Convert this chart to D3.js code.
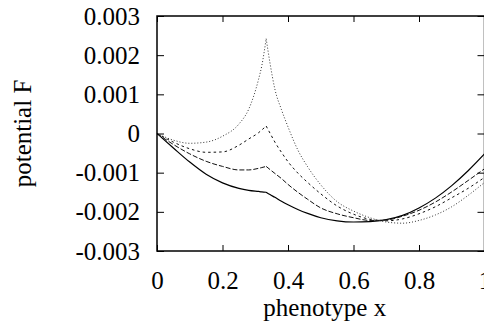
<!DOCTYPE html>
<html>
<head>
<meta charset="utf-8">
<script src="https://cdn.jsdelivr.net/npm/d3@7"></script>
<style>
  body { margin: 0; background: #fff; }
  svg { display: block; }
  svg text { font-family: "Liberation Serif", serif; font-size: 25px; fill: #000; }
</style>
</head>
<body>
<svg id="chart" width="484" height="323"></svg>
<script>
// x grid left of the kink (x = 1/3) and right of it
var xLeft  = [0, 0.05, 0.1, 0.15, 0.2, 0.25, 0.28, 0.31, 0.32, 1/3];
var xRight = [1/3, 0.345, 0.36, 0.38, 0.4, 0.43, 0.46, 0.5, 0.55, 0.6, 0.65, 0.7, 0.75, 0.8, 0.85, 0.9, 0.95, 1];

// potential values (units of 0.001)
var solidLeft  = [0, -0.37, -0.73, -1.04, -1.26, -1.40, -1.45, -1.48, -1.49, -1.50];
var solidRight = [-1.50, -1.56, -1.63, -1.73, -1.82, -1.94, -2.04, -2.15, -2.23, -2.26, -2.25, -2.20, -2.09, -1.90, -1.65, -1.33, -0.95, -0.52];

var longLeft  = [0, -0.28, -0.52, -0.71, -0.84, -0.93, -0.93, -0.89, -0.87, -0.84];
var longRight = [-0.84, -0.92, -1.02, -1.15, -1.30, -1.50, -1.68, -1.90, -2.05, -2.15, -2.22, -2.21, -2.11, -1.96, -1.75, -1.49, -1.20, -0.90];

var shortLeft  = [0, -0.22, -0.39, -0.48, -0.47, -0.30, -0.14, 0.02, 0.09, 0.19];
var shortRight = [0.19, 0.01, -0.22, -0.48, -0.72, -1.01, -1.25, -1.54, -1.85, -2.06, -2.19, -2.23, -2.18, -2.05, -1.87, -1.64, -1.40, -1.12];

var dotLeft  = [0, -0.17, -0.25, -0.22, -0.07, 0.24, 0.62, 1.38, 1.73, 2.42];
var dotRight = [2.42, 1.80, 1.13, 0.61, 0.17, -0.42, -0.85, -1.31, -1.74, -1.98, -2.15, -2.26, -2.29, -2.22, -2.08, -1.87, -1.58, -1.25];

var xTicks = [0, 0.2, 0.4, 0.6, 0.8, 1];
var yTicks = [-0.003, -0.002, -0.001, 0, 0.001, 0.002, 0.003];

var series = [
  { left: solidLeft, right: solidRight, dash: null,  width: 1.2, color: "#000" },
  { left: longLeft,  right: longRight,  dash: "5,2", width: 1,   color: "#111" },
  { left: shortLeft, right: shortRight, dash: "2.5,3", width: 1, color: "#111" },
  { left: dotLeft,   right: dotRight,   dash: "1,2", width: 1,   color: "#333" }
];

var svg = d3.select("#chart");
var mLeft = 157, mRight = 484.5, mTop = 16, mBottom = 251;

var x = d3.scaleLinear().domain([0, 1]).range([mLeft, mRight]);
var y = d3.scaleLinear().domain([-0.003, 0.003]).range([mBottom, mTop]);

var line = d3.line()
  .x(function(d) { return x(d[0]); })
  .y(function(d) { return y(d[1] / 1000); })
  .curve(d3.curveMonotoneX);

function pairs(xs, vs) {
  return xs.map(function(v, i) { return [v, vs[i]]; });
}

svg.append("g").selectAll("path")
  .data(series).enter()
  .append("path")
  .attr("d", function(s) { return line(pairs(xLeft, s.left)) + line(pairs(xRight, s.right)); })
  .attr("fill", "none")
  .attr("stroke", function(s) { return s.color; })
  .attr("stroke-width", function(s) { return s.width; })
  .attr("stroke-dasharray", function(s) { return s.dash; });

function fmt(d) { return d === 0 ? "0" : d.toFixed(3); }
function fmtX(d) { return d === 0 || d === 1 ? String(d) : d.toFixed(1); }

var axes = [];
axes.push(svg.append("g").attr("transform", "translate(0," + mBottom + ")")
  .call(d3.axisBottom(x).tickValues(xTicks).tickFormat(fmtX).tickSizeInner(-6).tickSizeOuter(0).tickPadding(20)));
axes.push(svg.append("g").attr("transform", "translate(0," + mTop + ")")
  .call(d3.axisTop(x).tickValues(xTicks).tickFormat("").tickSizeInner(-6).tickSizeOuter(0)));
axes.push(svg.append("g").attr("transform", "translate(" + mLeft + ",0)")
  .call(d3.axisLeft(y).tickValues(yTicks).tickFormat(fmt).tickSizeInner(-7).tickSizeOuter(0).tickPadding(17)));
axes.push(svg.append("g").attr("transform", "translate(" + mRight + ",0)")
  .call(d3.axisRight(y).tickValues(yTicks).tickFormat("").tickSizeInner(-7).tickSizeOuter(0)));

axes.forEach(function(g) {
  g.attr("font-family", null).attr("font-size", null);
});

svg.selectAll(".domain").remove();
svg.selectAll(".tick line").attr("stroke", "#000").attr("stroke-width", 1);
svg.selectAll(".tick text").attr("fill", "#000");

svg.append("rect")
  .attr("x", mLeft).attr("y", mTop)
  .attr("width", mRight - mLeft).attr("height", mBottom - mTop)
  .attr("fill", "none").attr("stroke", "#000").attr("stroke-width", 1.5);

svg.append("text")
  .attr("x", (mLeft + mRight) / 2 + 4).attr("y", 316)
  .attr("text-anchor", "middle")
  .text("phenotype x");

svg.append("text")
  .attr("transform", "translate(31," + ((mTop + mBottom) / 2) + ") rotate(-90)")
  .attr("text-anchor", "middle")
  .text("potential F");
</script>
</body>
</html>
